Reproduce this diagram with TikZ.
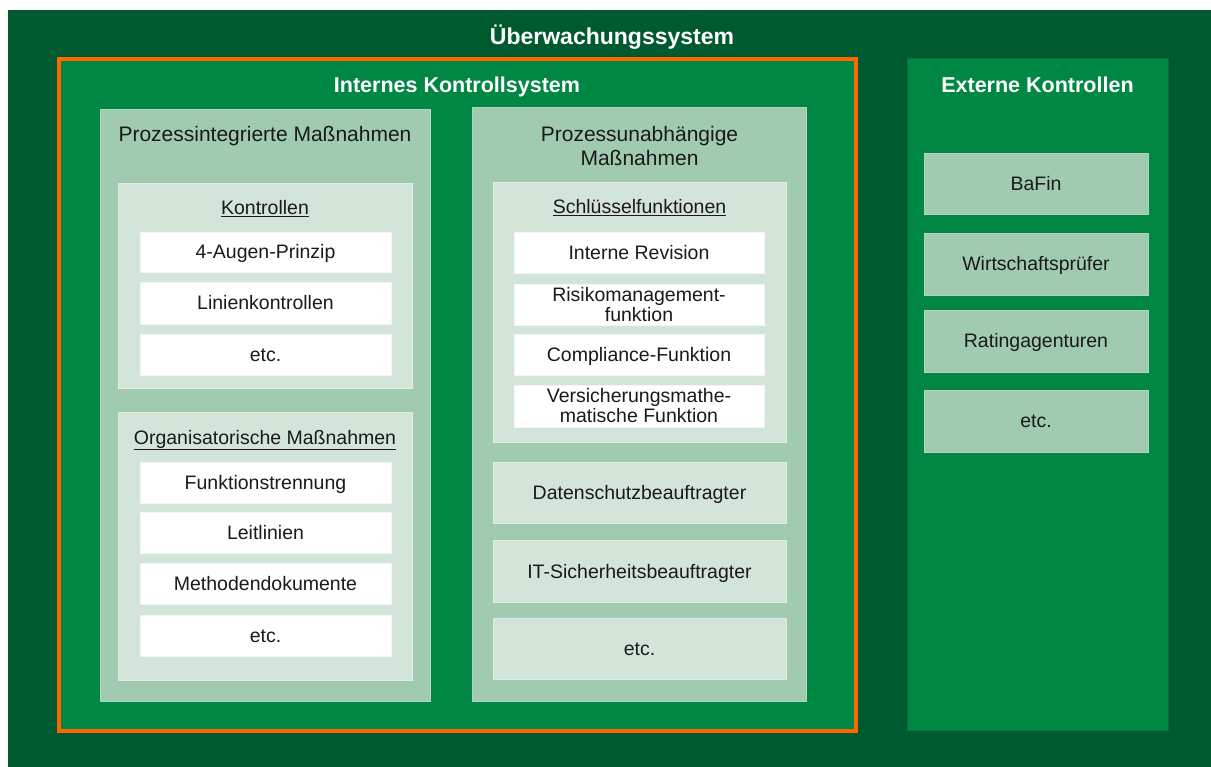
\documentclass[tikz,border=0pt]{standalone}
\usepackage{fontspec}
\setmainfont{Liberation Sans}
\definecolor{dkgreen}{HTML}{005A30}
\definecolor{mdgreen}{HTML}{008744}
\definecolor{lgreen}{HTML}{A0CBB0}
\definecolor{llgreen}{HTML}{D3E5D9}
\definecolor{orng}{HTML}{FF6600}
\definecolor{txt}{HTML}{1A1A1A}
\newcommand{\mkbox}[7]{\node[#1, minimum width={#5pt-#3pt}, minimum height={#6pt-#4pt}] (#2) at ({(#3+#5)/2},{(#4+#6)/2}) {#7};}
\begin{document}
\begin{tikzpicture}[x=1pt,y=-1pt,
  every node/.style={inner sep=0pt, outer sep=0pt, align=center},
  outerbox/.style={fill=dkgreen},
  icsbox/.style={fill=mdgreen, draw=orng, line width=4pt},
  extbox/.style={fill=mdgreen, draw=dkgreen!45!mdgreen, line width=0.8pt},
  colbox/.style={fill=lgreen, draw=lgreen!80!white, line width=0.6pt},
  grpbox/.style={fill=llgreen, draw=llgreen!70!white, line width=0.6pt},
  itembox/.style={fill=white, draw=llgreen!30!white, line width=0.6pt},
  bodytxt/.style={font=\fontsize{19.5}{20}\selectfont, text=txt},
  oneline/.style={text height=14pt, text depth=0pt},
  headtxt/.style={font=\fontsize{21}{24}\selectfont, text=txt},
  headone/.style={text height=15pt, text depth=0pt},
  titletxt/.style={font=\bfseries\fontsize{21.5}{24}\selectfont, text=white, text height=15.4pt, text depth=0pt},
]
\useasboundingbox (0,0) rectangle (1211,767);
\fill[white] (0,0) rectangle (1211,767);

% containers
\mkbox{outerbox}{outer}{8}{10}{1211}{767}{}
\mkbox{icsbox}{ics}{59}{59}{855.5}{730.5}{}
\mkbox{extbox}{ext}{907}{58}{1168}{730}{}
\mkbox{colbox}{colL}{100}{109}{430}{701}{}
\mkbox{colbox}{colR}{472}{107}{806.5}{701}{}

% titles
\node[titletxt, font=\bfseries\fontsize{23}{26}\selectfont, text height=16.4pt] (tUeb) at (612,36) {Überwachungssystem};
\node[titletxt] (tIKS) at (457,85) {Internes Kontrollsystem};
\node[titletxt] (tExt) at (1037.5,85) {Externe Kontrollen};
\node[headtxt, headone] (tPI) at (265,134.5) {Prozessintegrierte Maßnahmen};
\node[headtxt] (tPU) at (639.5,146) {Prozessunabhängige\\Maßnahmen};

% Kontrollen group
\mkbox{grpbox}{kon}{118}{183}{412}{388}{}
\node[bodytxt, oneline] (tKon) at (265,208) {\underline{Kontrollen}};
\mkbox{itembox, bodytxt, oneline}{k1}{140}{232}{391}{272}{4-Augen-Prinzip}
\mkbox{itembox, bodytxt, oneline}{k2}{140}{282}{391}{324}{Linienkontrollen}
\mkbox{itembox, bodytxt, oneline}{k3}{140}{334}{391}{375}{etc.}

% Organisatorische Massnahmen group
\mkbox{grpbox}{org}{118}{412}{412}{680}{}
\node[bodytxt, oneline] (tOrg) at (265,437) {\underline{Organisatorische Maßnahmen}};
\mkbox{itembox, bodytxt, oneline}{o1}{140}{462}{391}{503}{Funktionstrennung}
\mkbox{itembox, bodytxt, oneline}{o2}{140}{512}{391}{553}{Leitlinien}
\mkbox{itembox, bodytxt, oneline}{o3}{140}{563}{391}{604}{Methodendokumente}
\mkbox{itembox, bodytxt, oneline}{o4}{140}{615}{391}{656}{etc.}

% Schluesselfunktionen group
\mkbox{grpbox}{sch}{493}{182}{786}{442}{}
\node[bodytxt, oneline] (tSch) at (639.5,207) {\underline{Schlüsselfunktionen}};
\mkbox{itembox, bodytxt, oneline}{s1}{514}{232}{764}{273}{Interne Revision}
\mkbox{itembox, bodytxt}{s2}{514}{284}{764}{325}{Risikomanagement-\\funktion}
\mkbox{itembox, bodytxt, oneline}{s3}{514}{334}{764}{375}{Compliance-Funktion}
\mkbox{itembox, bodytxt}{s4}{514}{385}{764}{427}{Versicherungsmathe-\\matische Funktion}

\mkbox{grpbox, bodytxt, oneline}{ds}{493}{462}{786}{523}{Datenschutzbeauftragter}
\mkbox{grpbox, bodytxt, oneline}{its}{493}{540}{786}{602}{IT-Sicherheitsbeauftragter}
\mkbox{grpbox, bodytxt, oneline}{pue}{493}{618}{786}{679}{etc.}

% Externe Kontrollen
\mkbox{colbox, bodytxt, oneline}{e1}{924}{153}{1148}{214}{BaFin}
\mkbox{colbox, bodytxt, oneline}{e2}{924}{233}{1148}{295}{Wirtschaftsprüfer}
\mkbox{colbox, bodytxt, oneline}{e3}{924}{310}{1148}{372}{Ratingagenturen}
\mkbox{colbox, bodytxt, oneline}{e4}{924}{390}{1148}{452}{etc.}
\end{tikzpicture}
\end{document}
